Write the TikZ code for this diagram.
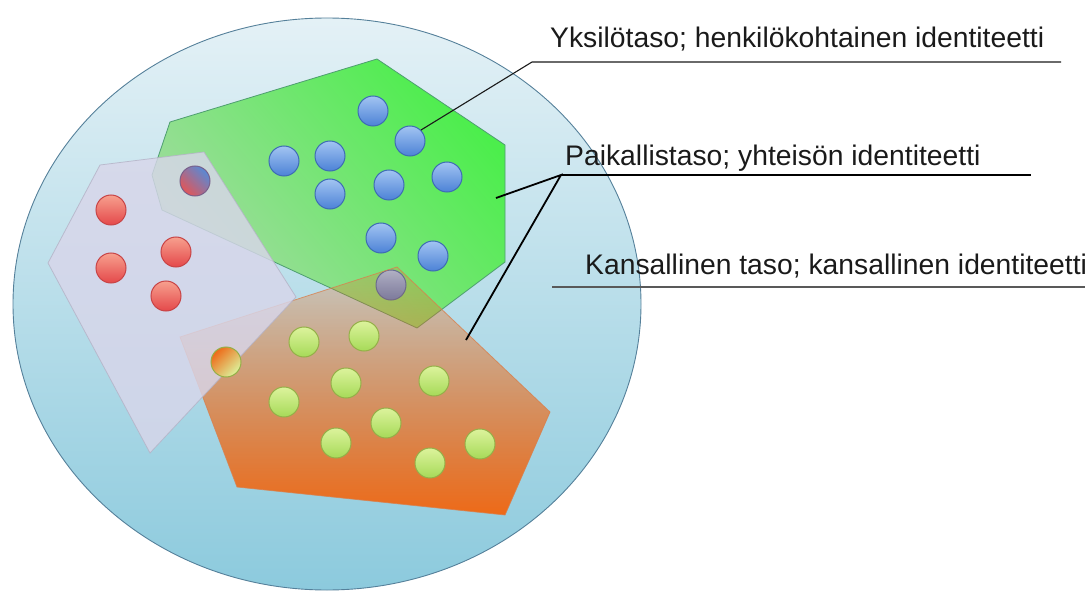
\documentclass[tikz,border=0pt]{standalone}
\usepackage{fontspec}
\setmainfont{Liberation Sans}
\usetikzlibrary{fadings}
\definecolor{ringtop}{HTML}{E4F1F6}
\definecolor{ringbot}{HTML}{8CCADD}
\definecolor{ringrim}{HTML}{55809A}
\definecolor{grnvivid}{HTML}{4CEE4C}
\definecolor{grnlight}{HTML}{A6DAA4}
\definecolor{grnrim}{HTML}{4E9E70}
\definecolor{orgfill}{HTML}{EE6A18}
\definecolor{orgrim}{HTML}{D8804E}
\definecolor{lavfill}{HTML}{D8D6EA}
\definecolor{lavrim}{HTML}{B4B2C6}
\definecolor{bluetop}{HTML}{A2C4F2}
\definecolor{bluebot}{HTML}{4C82D6}
\definecolor{bluerim}{HTML}{3E6CB4}
\definecolor{redtop}{HTML}{F7A08E}
\definecolor{redbot}{HTML}{E4484A}
\definecolor{redrim}{HTML}{C84446}
\definecolor{limetop}{HTML}{DCF39C}
\definecolor{limebot}{HTML}{A6DA58}
\definecolor{limerim}{HTML}{94B048}
\definecolor{txt}{HTML}{1A1A1A}
\tikzfading[name=ofade, top color=transparent!80, bottom color=transparent!0]
\tikzset{
  ball/.style={circle, minimum size=30pt, inner sep=0pt, line width=1pt},
  blueball/.style={ball, top color=bluetop, bottom color=bluebot, draw=bluerim},
  redball/.style={ball, top color=redtop, bottom color=redbot, draw=redrim},
  limeball/.style={ball, top color=limetop, bottom color=limebot, draw=limerim},
  lbl/.style={anchor=base west, inner sep=0pt, text=txt, font=\fontsize{28.3}{34}\selectfont},
  conn/.style={line width=1.8pt, black},
}
\begin{document}
\begin{tikzpicture}[x=1pt, y=-1pt]
\useasboundingbox (0,0) rectangle (1088,591);
% national level
\path[top color=ringtop, bottom color=ringbot, draw=ringrim, line width=0.9pt]
  (327,304) ellipse [x radius=314, y radius=286];
% local community (green)
\path[top color=grnvivid, bottom color=grnlight, shading angle=-50, draw=grnrim, line width=0.8pt]
  (170,122) -- (377,59) -- (505,145) -- (505,262) -- (417,328) -- (162,210) -- (152,175) -- cycle;
\node[blueball] (b1) at (373,111) {};
\node[blueball] (b2) at (410,141) {};
\node[blueball] (b3) at (284,161) {};
\node[blueball] (b4) at (330,156) {};
\node[blueball] (b5) at (447,177) {};
\node[blueball] (b6) at (389,185) {};
\node[blueball] (b7) at (330,194) {};
\node[blueball] (b8) at (381,238) {};
\node[blueball] (b9) at (433,256) {};
\node[blueball] (b10) at (391,285) {};
% local community (orange)
\fill[orgfill, path fading=ofade]
  (180,337) -- (397,267) -- (550,412) -- (505,515) -- (237,487) -- cycle;
\draw[orgrim, line width=0.8pt, draw opacity=0.8]
  (180,337) -- (397,267) -- (550,412) -- (505,515) -- (237,487) -- cycle;
\node[limeball] (g1) at (304,342) {};
\node[limeball] (g2) at (364,336) {};
\node[limeball] (g3) at (346,383) {};
\node[limeball] (g4) at (434,381) {};
\node[limeball] (g5) at (284,402) {};
\node[limeball] (g6) at (386,423) {};
\node[limeball] (g7) at (336,443) {};
\node[limeball] (g8) at (480,444) {};
\node[limeball] (g9) at (430,463) {};
% local community (lavender)
\path[fill=lavfill, fill opacity=0.82, draw=lavrim, draw opacity=0.8, line width=0.8pt]
  (100,165) -- (204,152) -- (296,297) -- (150,453) -- (48,263) -- cycle;
\node[redball] (r1) at (111,210) {};
\node[redball] (r2) at (176,252) {};
\node[redball] (r3) at (111,268) {};
\node[redball] (r4) at (166,296) {};
% shared members
\node[ball, left color=redbot, right color=bluebot, shading angle=135, draw=bluerim!60!redrim, opacity=0.9] (m1) at (195,181) {};
\node[ball, top color=orgfill, bottom color=limetop, shading angle=45, draw=limerim] (m2) at (226,362) {};
% labels
\coordinate (k1) at (532,62);
\coordinate (k1e) at (1061,62);
\coordinate (k2) at (561,175);
\coordinate (k2e) at (1031,175);
\coordinate (ge) at (496,198);
\coordinate (oe) at (466,340);
\coordinate (k3) at (552,287);
\coordinate (k3e) at (1085,287);
\draw[line width=1.1pt, txt] (b2.north east) -- (k1) -- (k1e);
\draw[conn] (ge) -- (k2) -- (oe);
\draw[conn] (k2) -- (k2e);
\draw[line width=1.2pt, black!65] (k3) -- (k3e);
\node[lbl] (t1) at (550,48) {Yksilötaso; henkilökohtainen identiteetti};
\node[lbl] (t2) at (565,166) {Paikallistaso; yhteisön identiteetti};
\node[lbl] (t3) at (585,274) {Kansallinen taso; kansallinen identiteetti};
\end{tikzpicture}
\end{document}
